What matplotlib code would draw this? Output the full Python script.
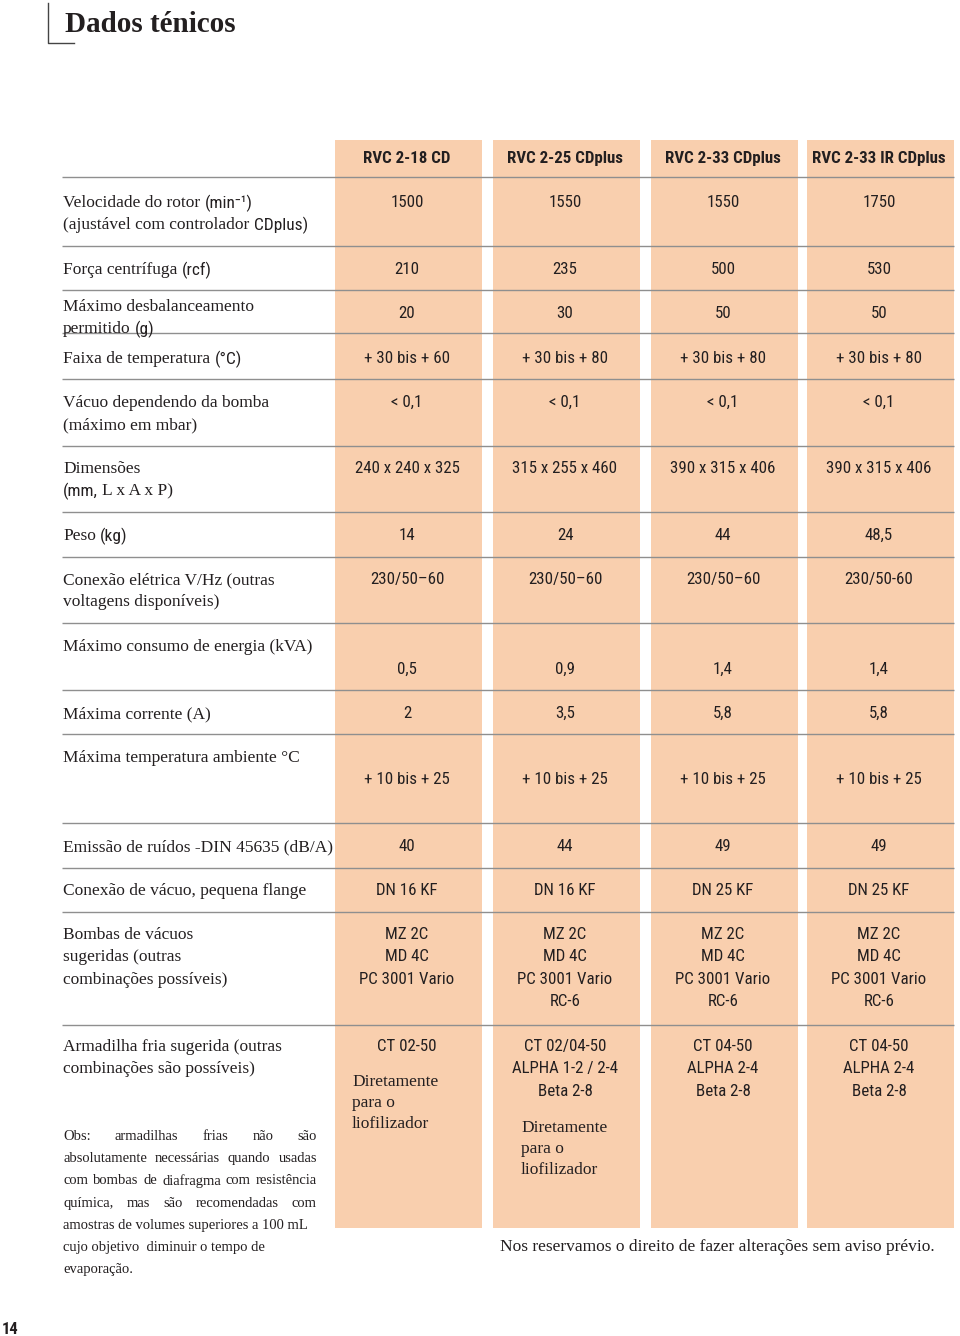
import re
import matplotlib
matplotlib.use('Agg')
import matplotlib.pyplot as plt
from matplotlib import font_manager as fm
from matplotlib.patches import Rectangle

# ---- conteúdo da tabela ----
title = "Dados ténicos"
page_number = "14"
models = ["RVC 2-18 CD", "RVC 2-25 CDplus", "RVC 2-33 CDplus", "RVC 2-33 IR CDplus"]

# trechos entre {} saem na fonte sem serifa
row_labels = [
    ["Velocidade do rotor {(min⁻¹)}", "(ajustável com controlador {CDplus)}"],
    ["Força centrífuga {(rcf)}"],
    ["Máximo desbalanceamento", "permitido {(g)}"],
    ["Faixa de temperatura {(°C)}"],
    ["Vácuo dependendo da bomba", "(máximo em mbar)"],
    ["Dimensões", "{(mm,} L x A x P)"],
    ["Peso {(kg)}"],
    ["Conexão elétrica V/Hz (outras", "voltagens disponíveis)"],
    ["Máximo consumo de energia (kVA)"],
    ["Máxima corrente (A)"],
    ["Máxima temperatura ambiente °C"],
    ["Emissão de ruídos -DIN 45635 (dB/A)"],
    ["Conexão de vácuo, pequena flange"],
    ["Bombas de vácuos", "sugeridas (outras", "combinações possíveis)"],
    ["Armadilha fria sugerida (outras", "combinações são possíveis)"],
]

row_values = [
    ["1500", "1550", "1550", "1750"],
    ["210", "235", "500", "530"],
    ["20", "30", "50", "50"],
    ["+ 30 bis + 60", "+ 30 bis + 80", "+ 30 bis + 80", "+ 30 bis + 80"],
    ["< 0,1", "< 0,1", "< 0,1", "< 0,1"],
    ["240 x 240 x 325", "315 x 255 x 460", "390 x 315 x 406", "390 x 315 x 406"],
    ["14", "24", "44", "48,5"],
    ["230/50–60", "230/50–60", "230/50–60", "230/50-60"],
    ["0,5", "0,9", "1,4", "1,4"],
    ["2", "3,5", "5,8", "5,8"],
    ["+ 10 bis + 25", "+ 10 bis + 25", "+ 10 bis + 25", "+ 10 bis + 25"],
    ["40", "44", "49", "49"],
    ["DN 16 KF", "DN 16 KF", "DN 25 KF", "DN 25 KF"],
    ["MZ 2C\nMD 4C\nPC 3001 Vario", "MZ 2C\nMD 4C\nPC 3001 Vario\nRC-6",
     "MZ 2C\nMD 4C\nPC 3001 Vario\nRC-6", "MZ 2C\nMD 4C\nPC 3001 Vario\nRC-6"],
    ["CT 02-50", "CT 02/04-50\nALPHA 1-2 / 2-4\nBeta 2-8",
     "CT 04-50\nALPHA 2-4\nBeta 2-8", "CT 04-50\nALPHA 2-4\nBeta 2-8"],
]

trap_notes = ["Diretamente\npara o\nliofilizador", "Diretamente\npara o\nliofilizador", "", ""]

obs_lines = [
    "Obs: armadilhas frias não são",
    "absolutamente necessárias quando usadas",
    "com bombas de diafragma com resistência",
    "química, mas são recomendadas com",
    "amostras de volumes superiores a 100 mL",
    "cujo objetivo  diminuir o tempo de",
    "evaporação.",
]
obs_justified = 4
footer = "Nos reservamos o direito de fazer alterações sem aviso prévio."

# ---- layout (pixels) ----
W, H = 960, 1336
col_left = [335, 493, 651, 807]
col_w = 147
box_top, box_bot = 140, 1228
header_y = 157
sep_y = [177, 246, 290, 333, 379, 446, 512, 557, 623, 690, 734, 823, 868, 912, 1025]
label_y = [201, 268, 305, 357, 401, 467, 534, 578, 645, 712, 756, 845, 889, 933, 1045]
value_y = [201, 268, 312, 357, 401, 467, 534, 578, 668, 712, 778, 845, 889, 933, 1045]
label_x = 63
line_gap = 22.3
note_pos = [(352, 1080), (521, 1126)]
note_gap = 21
obs_x0, obs_x1 = 63, 317
obs_y0, obs_gap = 1135, 22.2

INK = "#231f20"
PEACH = "#f9cfae"
RULE = "#8f8f8f"

avail = {f.name for f in fm.fontManager.ttflist}


def pick(*names):
    return [n for n in names if n in avail] + ['DejaVu Sans']


SERIF = pick('Liberation Serif', 'DejaVu Serif')
SANS = pick('Liberation Sans Narrow', 'Roboto Condensed', 'Liberation Sans')
SANS_B = pick('Liberation Sans Narrow', 'Roboto Condensed', 'Liberation Sans')

LABEL_PT = 12.5
VALUE_PT = 12.2
OBS_PT = 10.5

fig = plt.figure(figsize=(W / 100, H / 100), dpi=100)
ax = fig.add_axes([0, 0, 1, 1])
ax.set_xlim(0, W)
ax.set_ylim(H, 0)
ax.axis('off')
renderer = fig.canvas.get_renderer()


def width(s, fam, size, weight='normal'):
    t = ax.text(0, 0, s, family=fam, fontsize=size, weight=weight)
    w = t.get_window_extent(renderer).width
    t.remove()
    return w


def space_w(fam, size):
    return width("x x", fam, size) - width("xx", fam, size)


def draw_mixed(x, y, line, size):
    parts = [p for p in re.split(r'(\{[^}]*\})', line) if p]
    for p in parts:
        fam = SANS if p.startswith('{') else SERIF
        s = p.strip('{}')
        lead = len(s) - len(s.lstrip(' '))
        trail = len(s) - len(s.rstrip(' '))
        x += lead * space_w(fam, size)
        core = s.strip(' ')
        if core:
            t = ax.text(x, y, core, family=fam, fontsize=size, color=INK,
                        ha='left', va='center_baseline')
            x += t.get_window_extent(renderer).width
        x += trail * space_w(fam, size)


def draw_justified(x0, x1, y, line, size):
    words = line.split()
    ws = [width(w, SERIF, size) for w in words]
    gap = (x1 - x0 - sum(ws)) / (len(words) - 1)
    x = x0
    for w, wd in zip(words, ws):
        ax.text(x, y, w, family=SERIF, fontsize=size, color=INK,
                ha='left', va='center_baseline')
        x += wd + gap


# título com cantoneira
ax.plot([48, 48, 74], [3, 43, 43], color="#444444", lw=1.0)
ax.text(65, 21, title, family=SERIF, fontsize=21, weight='bold', color=INK,
        ha='left', va='center_baseline')

# colunas coloridas
for xl in col_left:
    ax.add_patch(Rectangle((xl, box_top), col_w, box_bot - box_top,
                           facecolor=PEACH, edgecolor='none', zorder=0))

# linhas separadoras
ax.hlines(sep_y, 62, 954, color=RULE, lw=1.0, zorder=2)

centers = [xl + col_w / 2 - 1.5 for xl in col_left]

# cabeçalho
for cx, m in zip(centers, models):
    ax.text(cx, header_y, m, family=SANS_B, fontsize=VALUE_PT, weight='bold',
            color=INK, ha='center', va='center_baseline')

# linhas da tabela
for labels, vals, ly, vy in zip(row_labels, row_values, label_y, value_y):
    for i, ln in enumerate(labels):
        draw_mixed(label_x, ly + i * line_gap, ln, LABEL_PT)
    for cx, v in zip(centers, vals):
        for j, ln in enumerate(v.split('\n')):
            ax.text(cx, vy + j * line_gap, ln, family=SANS, fontsize=VALUE_PT,
                    color=INK, ha='center', va='center_baseline')

# notas da armadilha fria
for (nx, ny), note in zip(note_pos, trap_notes):
    for j, ln in enumerate(note.split('\n')):
        ax.text(nx, ny + j * note_gap, ln, family=SERIF, fontsize=LABEL_PT,
                color=INK, ha='left', va='center_baseline')

# observação
for i, ln in enumerate(obs_lines):
    y = obs_y0 + i * obs_gap
    if i < obs_justified:
        draw_justified(obs_x0, obs_x1, y, ln, OBS_PT)
    else:
        ax.text(obs_x0, y, ln, family=SERIF, fontsize=OBS_PT, color=INK,
                ha='left', va='center_baseline')

ax.text(500, 1245, footer, family=SERIF, fontsize=LABEL_PT, color=INK,
        ha='left', va='center_baseline')

ax.text(2, 1328, page_number, family=SANS_B, fontsize=12, weight='bold',
        color=INK, ha='left', va='center_baseline')

fig.savefig('out.png', dpi=100)
